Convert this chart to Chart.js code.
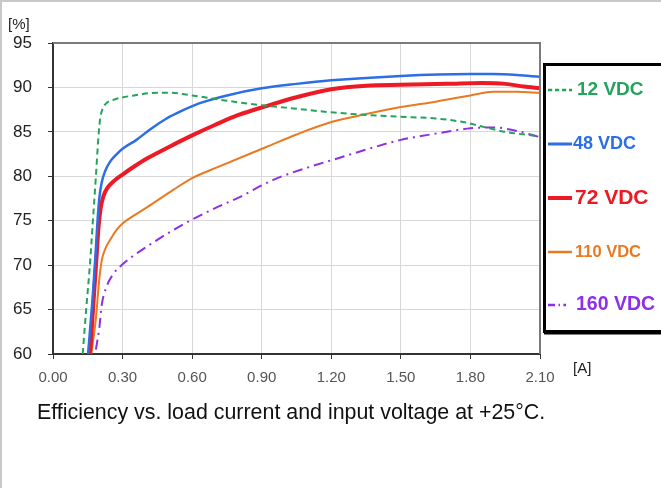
<!DOCTYPE html>
<html>
<head>
<meta charset="utf-8">
<script src="https://cdn.jsdelivr.net/npm/chart.js@4.4.1/dist/chart.umd.min.js"></script>
<style>
  html, body { margin: 0; padding: 0; background: #fff; }
  #wrap { position: relative; width: 661px; height: 488px; }
  #caption {
    position: absolute; left: 37px; top: 400px;
    font: 21.4px Arial, "Liberation Sans", sans-serif; color: #111;
    white-space: nowrap;
  }
</style>
</head>
<body>
<div id="wrap">
  <canvas id="chart" width="661" height="488"></canvas>
  <div id="caption">Efficiency vs. load current and input voltage at +25°C.</div>
</div>
<script>
"use strict";

// Werte (Strom in A, Wirkungsgrad in %)
const seriesLabels = ["12 VDC", "48 VDC", "72 VDC", "110 VDC", "160 VDC"];

const amps12 = [0.128, 0.143, 0.159, 0.172, 0.185, 0.196, 0.204, 0.214, 0.229, 0.26, 0.35, 0.45, 0.5, 0.6, 0.75, 0.9, 1.05, 1.2, 1.35, 1.5, 1.65, 1.77, 1.85, 1.95, 2.1];
const eff12 = [60, 65, 70, 75, 80, 84.5, 86.6, 87.6, 88.2, 88.6, 89.1, 89.4, 89.4, 89.1, 88.5, 88.0, 87.6, 87.2, 86.9, 86.7, 86.5, 86.1, 85.6, 85.0, 84.5];

const amps48 = [0.151, 0.17, 0.183, 0.192, 0.2, 0.21, 0.225, 0.245, 0.275, 0.3, 0.36, 0.42, 0.49, 0.55, 0.63, 0.75, 0.9, 1.05, 1.2, 1.5, 1.8, 1.9, 2.0, 2.1];
const eff48 = [60, 66, 71, 75, 77.6, 79.3, 80.6, 81.6, 82.5, 83.1, 84.1, 85.3, 86.5, 87.3, 88.2, 89.1, 89.9, 90.4, 90.8, 91.3, 91.5, 91.5, 91.4, 91.2];

const amps72 = [0.16, 0.175, 0.188, 0.197, 0.206, 0.218, 0.235, 0.26, 0.3, 0.35, 0.405, 0.5, 0.6, 0.7, 0.8, 0.92, 1.05, 1.2, 1.35, 1.5, 1.7, 1.85, 1.95, 2.03, 2.1];
const eff72 = [60, 66, 71, 74.5, 76.5, 77.8, 78.7, 79.4, 80.2, 81.1, 82.0, 83.3, 84.6, 85.8, 86.9, 87.9, 88.9, 89.8, 90.2, 90.3, 90.4, 90.5, 90.4, 90.1, 89.9];

const amps110 = [0.165, 0.185, 0.198, 0.21, 0.225, 0.25, 0.275, 0.3, 0.35, 0.405, 0.52, 0.6, 0.707, 0.92, 1.05, 1.2, 1.35, 1.5, 1.65, 1.8, 1.9, 2.0, 2.1];
const eff110 = [60, 64, 68, 70.5, 71.8, 73.0, 74.0, 74.7, 75.6, 76.5, 78.5, 79.8, 81.0, 83.3, 84.7, 86.1, 87.0, 87.8, 88.4, 89.1, 89.5, 89.5, 89.4];

const amps160 = [0.185, 0.2, 0.21, 0.23, 0.26, 0.3, 0.36, 0.405, 0.535, 0.69, 0.8, 0.95, 1.1, 1.2, 1.35, 1.5, 1.65, 1.8, 1.9, 2.0, 2.1];
const eff160 = [60.5, 63, 65.5, 67.5, 69.0, 70.1, 71.3, 72.1, 74.2, 76.3, 77.6, 79.6, 81.0, 81.8, 83.0, 84.1, 84.8, 85.4, 85.5, 85.1, 84.4];

const xTicks = [0, 0.3, 0.6, 0.9, 1.2, 1.5, 1.8, 2.1];
const yTicks = [60, 65, 70, 75, 80, 85, 90, 95];

const FONT = "Arial, 'Liberation Sans', sans-serif";

const toPoints = (xs, ys) => xs.map((x, i) => ({ x, y: ys[i] }));

const styles = [
  { color: "#23a45a", width: 2, dash: [6, 4], font: 19, tx: 577, ty: 90 },
  { color: "#2b6ee8", width: 2.5, dash: [], font: 18, tx: 573, ty: 144 },
  { color: "#ec1a24", width: 4, dash: [], font: 21, tx: 575, ty: 198 },
  { color: "#ea7a22", width: 2, dash: [], font: 16.5, tx: 575, ty: 252 },
  { color: "#8d2fe8", width: 2, dash: [10, 5, 2, 5], font: 19.5, tx: 576, ty: 305 },
];

const allX = [amps12, amps48, amps72, amps110, amps160];
const allY = [eff12, eff48, eff72, eff110, eff160];

const datasets = seriesLabels.map((label, i) => ({
  label,
  data: toPoints(allX[i], allY[i]),
  borderColor: styles[i].color,
  borderWidth: styles[i].width,
  borderDash: styles[i].dash,
  pointRadius: 0,
  fill: false,
  cubicInterpolationMode: "monotone",
}));

// Rahmen, Achsentitel und Legende selbst zeichnen
const decorPlugin = {
  id: "decor",
  beforeDraw(chart) {
    const ctx = chart.ctx;
    ctx.save();
    ctx.fillStyle = "#fff";
    ctx.fillRect(0, 0, chart.width, chart.height);
    ctx.strokeStyle = "#c8c8c8";
    ctx.lineWidth = 2;
    ctx.beginPath();
    ctx.moveTo(1, chart.height);
    ctx.lineTo(1, 1);
    ctx.lineTo(chart.width, 1);
    ctx.stroke();
    ctx.restore();
  },
  afterDraw(chart) {
    const ctx = chart.ctx;
    const a = chart.chartArea;
    ctx.save();
    // obere und rechte Begrenzung
    ctx.strokeStyle = "#7a7a7a";
    ctx.lineWidth = 2;
    ctx.beginPath();
    ctx.moveTo(a.left, a.top);
    ctx.lineTo(a.right, a.top);
    ctx.lineTo(a.right, a.bottom);
    ctx.stroke();

    ctx.fillStyle = "#222";
    ctx.font = `15px ${FONT}`;
    ctx.textBaseline = "middle";
    ctx.textAlign = "left";
    ctx.fillText("[%]", 8, 25);
    ctx.fillText("[A]", 573, 369);

    // Legende
    ctx.strokeStyle = "#000";
    ctx.lineWidth = 3;
    ctx.strokeRect(544.5, 64.5, 130, 267);
    ctx.lineWidth = 2;
    ctx.beginPath();
    ctx.moveTo(544, 333.5);
    ctx.lineTo(661, 333.5);
    ctx.stroke();

    chart.data.datasets.forEach((ds, i) => {
      const s = styles[i];
      ctx.strokeStyle = ds.borderColor;
      ctx.lineWidth = Math.min(s.width + 0.5, 4);
      ctx.setLineDash(s.dash.length ? s.dash.map((d) => d * 0.7) : []);
      ctx.beginPath();
      ctx.moveTo(548, s.ty);
      ctx.lineTo(i === 4 ? 566 : 572, s.ty);
      ctx.stroke();
      ctx.setLineDash([]);
      ctx.fillStyle = ds.borderColor;
      ctx.font = `bold ${s.font}px ${FONT}`;
      ctx.fillText(ds.label, s.tx, s.ty);
    });
    ctx.restore();
  },
};

new Chart(document.getElementById("chart"), {
  type: "line",
  data: { datasets },
  options: {
    responsive: false,
    animation: false,
    events: [],
    layout: { padding: { top: 43, right: 121, left: 0, bottom: 0 } },
    plugins: {
      legend: { display: false },
      tooltip: { enabled: false },
    },
    scales: {
      x: {
        type: "linear",
        min: 0,
        max: 2.1,
        afterBuildTicks: (scale) => { scale.ticks = xTicks.map((v) => ({ value: v })); },
        afterFit: (scale) => { scale.height = 134; },
        ticks: {
          callback: (v) => Number(v).toFixed(2),
          font: { family: FONT, size: 15 },
          color: "#555",
          padding: 10,
          maxRotation: 0,
        },
        grid: { color: "#d8d8d8", lineWidth: 1, tickLength: 5, tickColor: "#333" },
        border: { color: "#333", width: 2 },
      },
      y: {
        min: 60,
        max: 95,
        afterBuildTicks: (scale) => { scale.ticks = yTicks.map((v) => ({ value: v })); },
        afterFit: (scale) => { scale.width = 53; },
        ticks: {
          font: { family: FONT, size: 17 },
          color: "#222",
          padding: 16,
        },
        grid: { color: "#d8d8d8", lineWidth: 1, tickLength: 5, tickColor: "#333" },
        border: { color: "#333", width: 2 },
      },
    },
  },
  plugins: [decorPlugin],
});
</script>
</body>
</html>
